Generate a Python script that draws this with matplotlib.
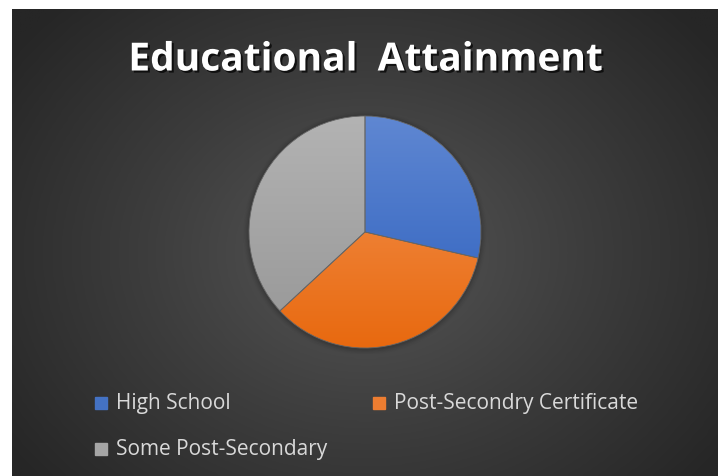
import numpy as np
import matplotlib
matplotlib.use("Agg")
import matplotlib.pyplot as plt
import matplotlib.patheffects as pe
from matplotlib.colors import LinearSegmentedColormap

categories = ["High School", "Post-Secondry Certificate", "Some Post-Secondary"]
values = [28.6, 34.5, 36.9]
title = "Educational  Attainment"
top_colors = ["#5f87d2", "#f49555", "#b3b3b3"]
bottom_colors = ["#2c5fbd", "#e8690f", "#969696"]
mid_colors = ["#4472c4", "#ed7d31", "#a5a5a5"]

W, H = 724, 477
fig = plt.figure(figsize=(W / 100, H / 100), dpi=100, facecolor="white")

# background with radial gradient
bx0, bx1, by0, by1 = 12, 718, 10, 477
bg = fig.add_axes([bx0 / W, 1 - by1 / H, (bx1 - bx0) / W, (by1 - by0) / H])
bg.set_axis_off()
ny, nx = 200, 300
yy, xx = np.mgrid[0:ny, 0:nx]
cx, cy = nx * 0.5, ny * 0.52
r = np.sqrt(((xx - cx) / (nx * 0.62)) ** 2 + ((yy - cy) / (ny * 0.75)) ** 2)
r = np.clip(r, 0, 1)
cmap_bg = LinearSegmentedColormap.from_list("bg", ["#565656", "#3d3d3d", "#262626"])
bg.imshow(r, cmap=cmap_bg, vmin=0, vmax=1, aspect="auto", interpolation="bilinear")

# title
fig.text(365 / W, 1 - 61 / H, title, ha="center", va="center", color="white",
         fontsize=28, fontweight="bold", family=["Open Sans", "DejaVu Sans"],
         path_effects=[pe.SimplePatchShadow(offset=(1.5, -1.5), shadow_rgbFace="black", alpha=0.7),
                       pe.Normal()])

# pie
pcx, pcy, rad = 365, 233, 116
s = 1.05
ax = fig.add_axes([(pcx - rad * s) / W, 1 - (pcy + rad * s) / H, 2 * rad * s / W, 2 * rad * s / H])
ax.set_axis_off()
for i, a in enumerate(np.linspace(0.06, 0.02, 4)):
    c = plt.Circle((0.0, -0.01), 1.0 + 0.012 * (i + 1), color="black", alpha=a, lw=0)
    ax.add_patch(c)
wedges, _ = ax.pie(values, startangle=90, counterclock=False, radius=1.0,
                   colors=mid_colors, wedgeprops=dict(linewidth=0.6, edgecolor="#666666"))
grad = np.linspace(0, 1, 256).reshape(-1, 1)
for w, tc, bc in zip(wedges, top_colors, bottom_colors):
    cm = LinearSegmentedColormap.from_list("g", [tc, bc])
    im = ax.imshow(grad, cmap=cm, extent=[-1, 1, -1, 1], origin="upper",
                   aspect="auto", zorder=3)
    im.set_clip_path(w)
for w in wedges:
    w.set_facecolor("none")
    w.set_zorder(5)
ax.set_xlim(-s, s)
ax.set_ylim(-s, s)

# legend
leg_pos = [(95, 404), (373, 404), (95, 450)]
for (lx, ly), name, col in zip(leg_pos, categories, mid_colors):
    fig.patches.append(plt.Rectangle((lx / W, 1 - (ly + 6) / H), 12 / W, 12 / H,
                                     transform=fig.transFigure, color=col, figure=fig))
    fig.text((lx + 21) / W, 1 - ly / H, name, ha="left", va="center", color="#d9d9d9",
             fontsize=15, family=["Open Sans", "DejaVu Sans"])

fig.savefig("out.png", dpi=100, facecolor="white")
